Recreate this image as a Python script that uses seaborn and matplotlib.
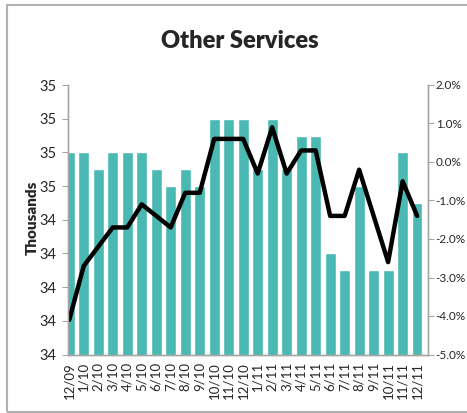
import numpy as np
import pandas as pd
import matplotlib
matplotlib.use("Agg")
import matplotlib.pyplot as plt
from matplotlib.patches import Rectangle
from matplotlib.ticker import FuncFormatter, MultipleLocator
import seaborn as sns

months = ["12/09", "1/10", "2/10", "3/10", "4/10", "5/10", "6/10", "7/10", "8/10",
          "9/10", "10/10", "11/10", "12/10", "1/11", "2/11", "3/11", "4/11", "5/11",
          "6/11", "7/11", "8/11", "9/11", "10/11", "11/11", "12/11"]
# employment level, thousands
employment = [34.8, 34.8, 34.7, 34.8, 34.8, 34.8, 34.7, 34.6, 34.7, 34.6, 35.0, 35.0,
              35.0, 34.7, 35.0, 34.7, 34.9, 34.9, 34.2, 34.1, 34.6, 34.1, 34.1, 34.8, 34.5]
# year over year change, %
yoy_change = [-4.1, -2.7, -2.2, -1.7, -1.7, -1.1, -1.4, -1.7, -0.8, -0.8, 0.6, 0.6,
              0.6, -0.3, 0.9, -0.3, 0.3, 0.3, -1.4, -1.4, -0.2, -1.4, -2.6, -0.5, -1.4]

df = pd.DataFrame({"month": months, "employment": employment, "yoy": yoy_change})
df["pos"] = np.arange(len(df))

sns.set_style("white")
plt.rcParams["font.family"] = ["Lato", "DejaVu Sans"]

fig = plt.figure(figsize=(4.67, 4.13), dpi=100)
ax = fig.add_axes([67.5 / 467, 1 - 354.5 / 413, (428 - 67.5) / 467, (354.5 - 85) / 413])

sns.barplot(data=df, x="month", y="employment", color="#4BB9B3", saturation=1,
            width=0.74, ax=ax)
ax2 = ax.twinx()
sns.lineplot(data=df, x="pos", y="yoy", color="black", linewidth=3.2, ax=ax2)

ax.set_ylim(33.6, 35.2)
ax.yaxis.set_major_locator(MultipleLocator(0.2))
ax.yaxis.set_major_formatter(FuncFormatter(lambda v, p: f"{v:.0f}"))
ax2.set_ylim(-5, 2)
ax2.yaxis.set_major_locator(MultipleLocator(1))
ax2.yaxis.set_major_formatter(FuncFormatter(lambda v, p: f"{v:.1f}%"))
ax.set_xlim(-0.12, 24.75)

grey = "#A6A6A6"
for a in (ax, ax2):
    a.spines["top"].set_visible(False)
    for s in ("left", "right", "bottom"):
        a.spines[s].set_color(grey)
        a.spines[s].set_linewidth(1)
    a.set_xlabel("")
    a.set_ylabel("")

ax.tick_params(axis="y", left=True, length=4, color=grey, labelsize=10.5, pad=4)
ax2.tick_params(axis="y", right=True, length=4, color=grey, labelsize=8.5, pad=1.5)
ax.tick_params(axis="x", bottom=False, labelrotation=90, labelsize=9.5, pad=2)

ax.set_ylabel("Thousands", fontsize=11, fontweight="heavy")
ax.yaxis.set_label_coords(-0.08, 0.506)
fig.text(240 / 467, 1 - 41 / 413, "Other Services", ha="center", va="center",
         fontsize=17, fontweight="heavy")

fig.patches.append(Rectangle((7 / 467, 1 - 411.5 / 413), 1.0, (411.5 - 4.5) / 413,
                             transform=fig.transFigure, fill=False,
                             edgecolor="#B0B0B0", linewidth=1.5))

fig.savefig("out.png", dpi=100)
